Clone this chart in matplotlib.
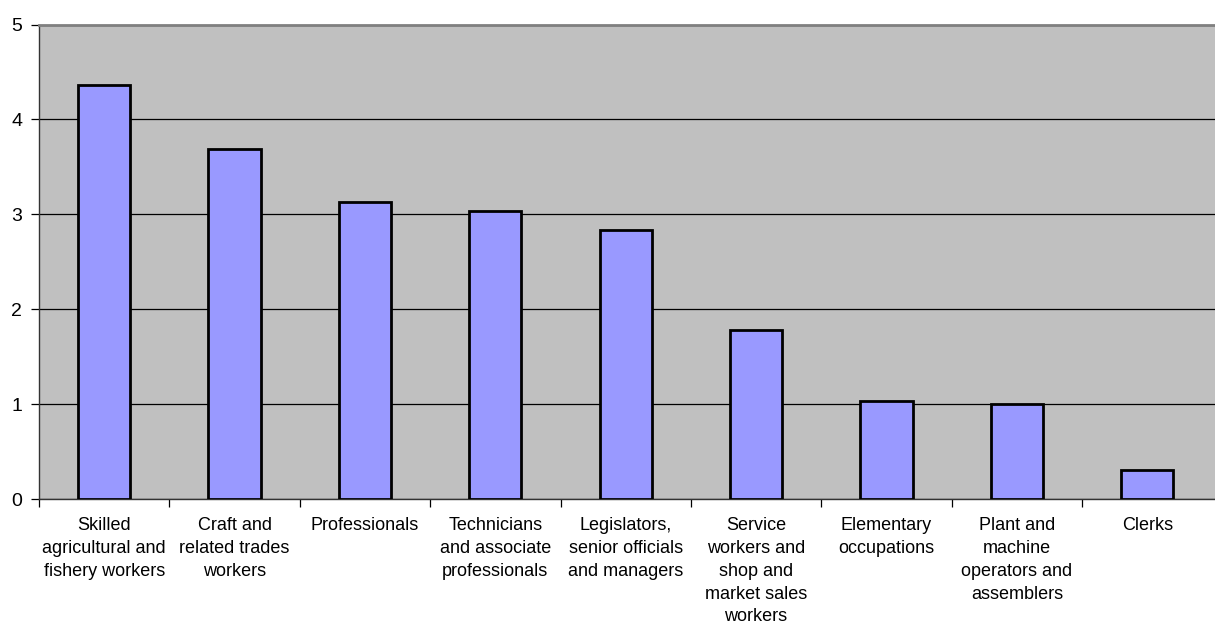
import matplotlib
matplotlib.use("Agg")
import matplotlib.pyplot as plt
import numpy as np

categories = [
    "Skilled\nagricultural and\nfishery workers",
    "Craft and\nrelated trades\nworkers",
    "Professionals",
    "Technicians\nand associate\nprofessionals",
    "Legislators,\nsenior officials\nand managers",
    "Service\nworkers and\nshop and\nmarket sales\nworkers",
    "Elementary\noccupations",
    "Plant and\nmachine\noperators and\nassemblers",
    "Clerks",
]
values = [4.36, 3.69, 3.13, 3.03, 2.83, 1.78, 1.03, 1.00, 0.31]
yticks = [0, 1, 2, 3, 4, 5]

plt.rcParams['font.family'] = ['Liberation Sans', 'DejaVu Sans']

fig = plt.figure(figsize=(12.15, 6.30), dpi=100)
ax = fig.add_axes([39/1215, 1 - 499/630, (1215-39)/1215, (499-24.5)/630])
ax.set_facecolor("#c0c0c0")

x = np.arange(len(categories))
ax.bar(x, values, width=0.4, color="#9999ff", edgecolor="black", linewidth=2, zorder=3)

ax.set_xlim(-0.5, len(categories) - 0.5 + 0.02)
ax.set_ylim(0, 5)
ax.set_yticks(yticks)
ax.set_yticklabels([str(v) for v in yticks], fontsize=14)
ax.yaxis.grid(True, color="black", linewidth=0.9, zorder=1)
ax.set_axisbelow(True)

ax.set_xticks(np.arange(len(categories)) - 0.5)
ax.set_xticklabels([])
ax.set_xticks(x, minor=True)
ax.set_xticklabels(categories, minor=True, fontsize=13, linespacing=1.45, va="top")
ax.tick_params(axis="x", which="minor", length=0, pad=13)
ax.tick_params(axis="x", which="major", length=6, width=0.9, direction="out")
ax.tick_params(axis="y", length=6, width=0.9, direction="out", pad=6)

ax.spines["right"].set_visible(False)
ax.spines["top"].set_color("#808080")
ax.spines["top"].set_linewidth(2)
ax.spines["left"].set_color("#333333")
ax.spines["bottom"].set_color("#333333")
ax.spines["left"].set_linewidth(1.0)
ax.spines["bottom"].set_linewidth(1.0)

fig.savefig("out.png", dpi=100, facecolor="white")
